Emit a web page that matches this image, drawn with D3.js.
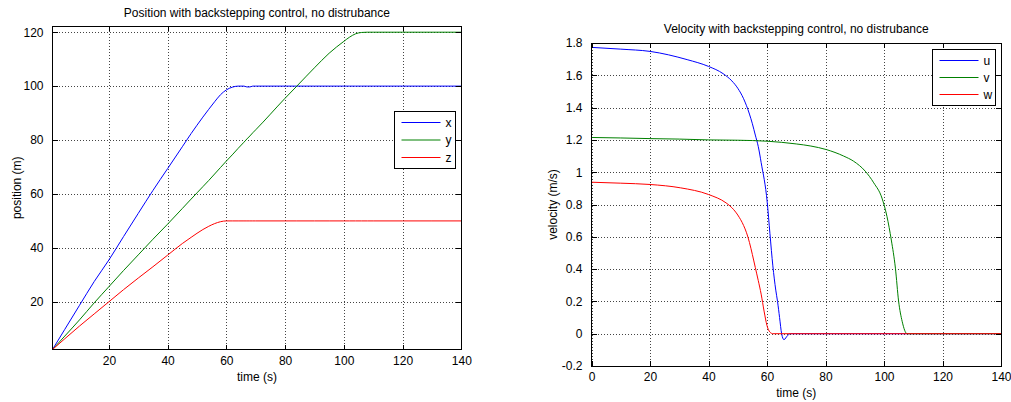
<!DOCTYPE html>
<html>
<head>
<meta charset="utf-8">
<script src="https://cdn.jsdelivr.net/npm/d3@7"></script>
<style>
  html, body { margin: 0; padding: 0; background: #fff; }
  svg { display: block; }
  text { font-family: "Liberation Sans", Arial, Helvetica, sans-serif; fill: #000; }
</style>
</head>
<body>
<svg id="chart" width="1011" height="402"></svg>
<script>
// ---------- data ----------
const posTime = [0.8, 5, 10, 15, 20, 25, 30, 35, 40, 45, 48, 50, 52, 54, 56, 58, 60, 62, 64, 66, 67, 68, 69, 70, 80, 84, 90, 95, 100, 102, 104, 106, 108, 110, 120, 130, 140];
const posX    = [2.3, 9.8, 18.7, 27.5, 35.5, 44.2, 52.8, 61.3, 69.4, 77.5, 82.4, 85.5, 88.5, 91.4, 94.2, 96.8, 98.6, 99.6, 100, 100, 99.7, 99.7, 100, 100, 100, 100, 100, 100, 100, 100, 100, 100, 100, 100, 100, 100, 100];
const posY    = [2.3, 7.3, 13.3, 19.6, 25.6, 31.6, 37.4, 43.2, 48.8, 54.6, 58.1, 60.4, 62.7, 65.0, 67.4, 69.8, 72.2, 74.5, 76.9, 79.2, 80.4, 81.5, 82.7, 83.8, 95.5, 100, 106.8, 112.2, 116.6, 118.2, 119.4, 119.9, 120, 120, 120, 120, 120];
const posZ    = [2.3, 6.3, 11.0, 15.5, 20.0, 24.5, 28.8, 33.0, 37.3, 41.6, 43.9, 45.4, 46.8, 48.0, 49.0, 49.7, 50, 50, 50, 50, 50, 50, 50, 50, 50, 50, 50, 50, 50, 50, 50, 50, 50, 50, 50, 50, 50];

const velUTime = [0, 10, 20, 32.7, 40, 45, 48, 50, 52, 54, 55, 56, 57, 58, 60.1, 61, 62, 63, 63.6, 64.3, 65, 65.8, 67, 68, 140];
const velU     = [1.773, 1.762, 1.748, 1.697, 1.655, 1.61, 1.565, 1.52, 1.455, 1.36, 1.30, 1.23, 1.16, 1.06, 0.81, 0.62, 0.42, 0.27, 0.20, 0.10, 0.0, -0.037, -0.012, 0, 0];
const velVTime = [0, 10, 20, 30, 40, 50, 60, 70, 75, 80.3, 86.2, 89.6, 93.6, 96.5, 99.3, 101, 102.5, 103.9, 105, 106.2, 107.9, 140];
const velV     = [1.215, 1.212, 1.208, 1.205, 1.2, 1.198, 1.192, 1.175, 1.162, 1.14, 1.10, 1.068, 1.006, 0.934, 0.84, 0.727, 0.58, 0.406, 0.2, 0.077, 0, 0];
const velWTime = [0, 10, 20, 30.5, 40, 46, 48, 50, 52, 53, 54, 55, 56, 57, 58, 59, 60, 61, 62, 140];
const velW     = [0.938, 0.932, 0.924, 0.903, 0.862, 0.81, 0.78, 0.735, 0.67, 0.625, 0.565, 0.49, 0.41, 0.33, 0.245, 0.14, 0.05, 0.01, 0, 0];

const posXTicks = [20, 40, 60, 80, 100, 120, 140];
const posYTicks = [20, 40, 60, 80, 100, 120];
const velXTicks = [0, 20, 40, 60, 80, 100, 120, 140];
const velYTicks = [-0.2, 0, 0.2, 0.4, 0.6, 0.8, 1, 1.2, 1.4, 1.6, 1.8];

const seriesColors = ["#0000ff", "#008000", "#ff0000"];
const posNames = ["x", "y", "z"];
const velNames = ["u", "v", "w"];

// ---------- drawing ----------
const svg = d3.select("#chart");
svg.append("rect").attr("width", 1011).attr("height", 402).attr("fill", "#fff");

function panel(cfg) {
  const x = d3.scaleLinear().domain(cfg.xDomain).range([cfg.left, cfg.right]);
  const y = d3.scaleLinear().domain(cfg.yDomain).range([cfg.bottom, cfg.top]);
  const w = cfg.right - cfg.left, h = cfg.bottom - cfg.top;
  const g = svg.append("g");
  const fmt = d => String(+(+d).toFixed(1));

  // grid
  const grid = g.append("g").attr("class", "grid");
  grid.append("g").attr("transform", `translate(0,${cfg.bottom})`)
    .call(d3.axisBottom(x).tickValues(cfg.xTicks).tickSize(-h).tickFormat(""));
  grid.append("g").attr("transform", `translate(${cfg.left},0)`)
    .call(d3.axisLeft(y).tickValues(cfg.yTicks).tickSize(-w).tickFormat(""));
  grid.selectAll(".domain").remove();
  grid.selectAll("line").attr("stroke", "#444").attr("stroke-dasharray", "1,2").attr("shape-rendering", "crispEdges");

  // series
  const line = d3.line().x(d => x(d[0])).y(d => y(d[1])).curve(d3.curveMonotoneX);
  cfg.series.forEach((s, i) => {
    const pts = s.t.map((t, k) => [t, s.v[k]]);
    g.append("path").attr("d", line(pts)).attr("fill", "none")
      .attr("stroke", seriesColors[i]).attr("stroke-width", 1);
  });

  // axes (ticks inside, mirrored)
  const axes = g.append("g");
  const bottom = axes.append("g").attr("transform", `translate(0,${cfg.bottom})`)
    .call(d3.axisBottom(x).tickValues(cfg.xTicks).tickSize(-5).tickPadding(10).tickFormat(fmt));
  axes.append("g").attr("transform", `translate(0,${cfg.top})`)
    .call(d3.axisTop(x).tickValues(cfg.xTicks).tickSize(-5).tickFormat(""));
  axes.append("g").attr("transform", `translate(${cfg.left},0)`)
    .call(d3.axisLeft(y).tickValues(cfg.yTicks).tickSize(-5).tickPadding(9).tickFormat(fmt));
  axes.append("g").attr("transform", `translate(${cfg.right},0)`)
    .call(d3.axisRight(y).tickValues(cfg.yTicks).tickSize(-5).tickFormat(""));
  axes.selectAll(".domain").remove();
  axes.selectAll("line").attr("stroke", "#000").attr("shape-rendering", "crispEdges");
  axes.selectAll("text").attr("font-size", 12).attr("font-family", "Liberation Sans, Arial, sans-serif").attr("fill", "#000");
  bottom.selectAll("text").attr("dy", null).attr("y", 15).attr("dominant-baseline", "auto");

  g.append("rect").attr("x", cfg.left).attr("y", cfg.top).attr("width", w).attr("height", h)
    .attr("fill", "none").attr("stroke", "#000").attr("shape-rendering", "crispEdges");

  // title & labels
  g.append("text").attr("x", (cfg.left + cfg.right) / 2).attr("y", cfg.titleY)
    .attr("text-anchor", "middle").attr("font-size", 12).text(cfg.title);
  g.append("text").attr("x", (cfg.left + cfg.right) / 2).attr("y", cfg.bottom + 31)
    .attr("text-anchor", "middle").attr("font-size", 12).text("time (s)");
  g.append("text").attr("transform", `translate(${cfg.ylabelX},${(cfg.top + cfg.bottom) / 2}) rotate(-90)`)
    .attr("text-anchor", "middle").attr("font-size", 12).text(cfg.ylabel);

  // legend
  const L = cfg.legend;
  const lg = g.append("g");
  lg.append("rect").attr("x", L.x).attr("y", L.y).attr("width", L.w).attr("height", L.h)
    .attr("fill", "#fff").attr("stroke", "#000").attr("shape-rendering", "crispEdges");
  cfg.names.forEach((n, i) => {
    const yy = L.y + L.first + i * L.step;
    lg.append("line").attr("x1", L.x + 7).attr("x2", L.x + 46).attr("y1", yy).attr("y2", yy)
      .attr("stroke", seriesColors[i]).attr("stroke-width", 1);
    lg.append("text").attr("x", L.x + 51).attr("y", yy).attr("dy", "0.35em")
      .attr("font-size", 12).text(n);
  });
}

panel({
  left: 52.5, right: 461.3, top: 26, bottom: 349.5,
  xDomain: [0.8, 140], yDomain: [2.3, 122.3],
  xTicks: posXTicks, yTicks: posYTicks,
  series: [{t: posTime, v: posX}, {t: posTime, v: posY}, {t: posTime, v: posZ}],
  names: posNames,
  title: "Position with backstepping control, no distrubance", titleY: 17,
  ylabel: "position (m)", ylabelX: 21,
  legend: {x: 394.5, y: 111.5, w: 61, h: 57, first: 11, step: 17.5}
});

panel({
  left: 591.5, right: 1001, top: 43, bottom: 366,
  xDomain: [0, 140], yDomain: [-0.2, 1.8],
  xTicks: velXTicks, yTicks: velYTicks,
  series: [{t: velUTime, v: velU}, {t: velVTime, v: velV}, {t: velWTime, v: velW}],
  names: velNames,
  title: "Velocity with backstepping control, no distrubance", titleY: 32.5,
  ylabel: "velocity (m/s)", ylabelX: 557,
  legend: {x: 932.5, y: 49.5, w: 63, h: 56, first: 11, step: 17}
});
</script>
</body>
</html>
